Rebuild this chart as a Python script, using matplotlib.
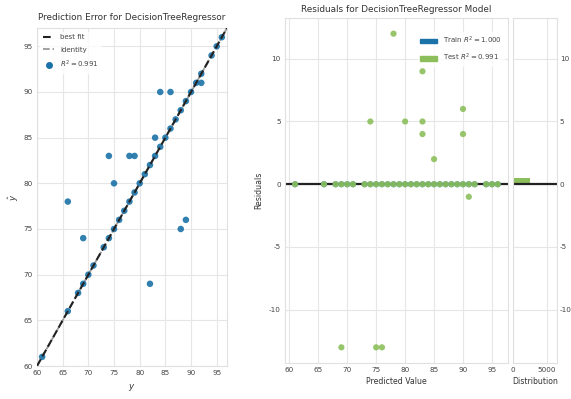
import numpy as np
import matplotlib
matplotlib.use("Agg")
import matplotlib.pyplot as plt
from matplotlib.patches import Patch
from matplotlib.lines import Line2D

plt.rcParams['font.family'] = ['Liberation Sans Narrow', 'DejaVu Sans']
plt.rcParams['axes.unicode_minus'] = False

# ---- data ----
# test points that lie on the identity (predicted == actual)
exact_values = [61, 66, 68, 69, 70, 71, 73, 74, 75, 76, 77, 78, 79, 80, 81, 82,
                83, 84, 85, 86, 87, 88, 89, 90, 91, 92, 94, 95, 96]
# test points with non-zero error
miss_true = [66, 69, 75, 74, 78, 79, 83, 84, 86, 92, 82, 88, 89]
miss_pred = [78, 74, 80, 83, 83, 83, 85, 90, 90, 91, 69, 75, 76]
best_fit_coef = [1.0, 0.0]          # slope, intercept of best-fit line
r2_test = 0.991
r2_train = 1.000
dist_train_count = 6150             # train residual histogram (all at 0)
dist_test_count = 2500              # test residual histogram, bin [0, 0.5)

y_true = np.array(exact_values + miss_true, dtype=float)
y_pred = np.array(exact_values + miss_pred, dtype=float)
residuals = y_pred - y_true
train_pred = np.array(exact_values, dtype=float)
train_resid = np.zeros_like(train_pred)

BLUE = '#1b72a8'
GREEN = '#8cbf5c'
GRID = '#e6e6e6'
TICK_FS = 5.2
LABEL_FS = 5.6
TITLE_FS = 6.4
LEG_FS = 5.0

fig = plt.figure(figsize=(5.71, 3.99), dpi=100)

def style(ax):
    ax.set_facecolor('white')
    ax.grid(True, color=GRID, lw=0.8)
    ax.set_axisbelow(True)
    for s in ax.spines.values():
        s.set_color('#e0e0e0')
        s.set_linewidth(0.8)
    ax.tick_params(length=0, labelsize=TICK_FS, colors='#444444', pad=3)

# ---- left: prediction error ----
ax1 = fig.add_axes([0.0648, 0.0827, 0.3327, 0.847])
style(ax1)
ax1.scatter(y_true, y_pred, s=22, color=BLUE, alpha=0.9, edgecolors='none', zorder=3)
lims = np.array([60, 97])
ax1.plot(lims, lims, ls='--', color='#999999', lw=1.3, zorder=2)
ax1.plot(lims, best_fit_coef[0] * lims + best_fit_coef[1], ls='--', color='#222222', lw=1.5, zorder=4)
ax1.set_xlim(60, 97)
ax1.set_ylim(60, 97)
ax1.set_xticks([60, 65, 70, 75, 80, 85, 90, 95])
ax1.set_yticks([60, 65, 70, 75, 80, 85, 90, 95])
ax1.set_title('Prediction Error for DecisionTreeRegressor', fontsize=TITLE_FS, color='#333333', pad=6)
ax1.set_xlabel('$y$', fontsize=LABEL_FS + 0.6, color='#333333', labelpad=4)
ax1.set_ylabel(r'$\hat{y}$', fontsize=LABEL_FS + 0.6, color='#333333', labelpad=2)
h1 = [Line2D([], [], ls='--', color='#222222', lw=1.5),
      Line2D([], [], ls='--', color='#999999', lw=1.3),
      Line2D([], [], ls='none', marker='o', color=BLUE, markersize=4)]
ax1.legend(h1, ['best fit', 'identity', '$R^2 = %.3f$' % r2_test], loc='upper left',
           fontsize=LEG_FS, frameon=True, facecolor='white', edgecolor='white',
           handlelength=1.6, labelcolor='#444444', labelspacing=0.9)

# ---- right: residuals ----
ax2 = fig.add_axes([0.499, 0.0902, 0.3905, 0.8647])
style(ax2)
ax2.scatter(train_pred, train_resid, s=20, color=BLUE, alpha=0.75, edgecolors='none', zorder=3)
ax2.scatter(y_pred, residuals, s=20, color=GREEN, alpha=0.9, edgecolors='none', zorder=3)
ax2.axhline(0, color='#222222', lw=1.6, zorder=2)
ax2.set_xticks([60, 65, 70, 75, 80, 85, 90, 95])
ax2.set_yticks([-10, -5, 0, 5, 10])
ax2.set_title('Residuals for DecisionTreeRegressor Model', fontsize=TITLE_FS, color='#333333', pad=4)
ax2.set_xlabel('Predicted Value', fontsize=LABEL_FS, color='#333333', labelpad=3)
ax2.set_ylabel('Residuals', fontsize=LABEL_FS, color='#333333', labelpad=4)
h2 = [Patch(color=BLUE), Patch(color=GREEN)]
ax2.legend(h2, ['Train $R^2 = %.3f$' % r2_train, 'Test $R^2 = %.3f$' % r2_test],
           loc='upper right', bbox_to_anchor=(1.0, 0.97), fontsize=LEG_FS, frameon=True,
           facecolor='white', edgecolor='white', handlelength=2.4, labelcolor='#444444',
           labelspacing=0.9)

# ---- distribution ----
ax3 = fig.add_axes([0.8984, 0.0902, 0.077, 0.8647], sharey=ax2)
style(ax3)
ax3.barh([0], [dist_train_count], height=0.02, align='edge', color=BLUE)
ax3.barh([0], [dist_test_count], height=0.5, align='edge', color=GREEN)
ax3.axhline(0, color='#222222', lw=1.6, zorder=2)
ax3.set_xticks([0, 5000])
ax3.yaxis.tick_right()
ax3.tick_params(axis='y', labelright=True, labelleft=False, pad=2)
ax3.set_xlabel('Distribution', fontsize=LABEL_FS, color='#333333', labelpad=3)

ax2.set_ylim(-14.25, 13.25)

fig.savefig('out.png', dpi=100, facecolor='white')
